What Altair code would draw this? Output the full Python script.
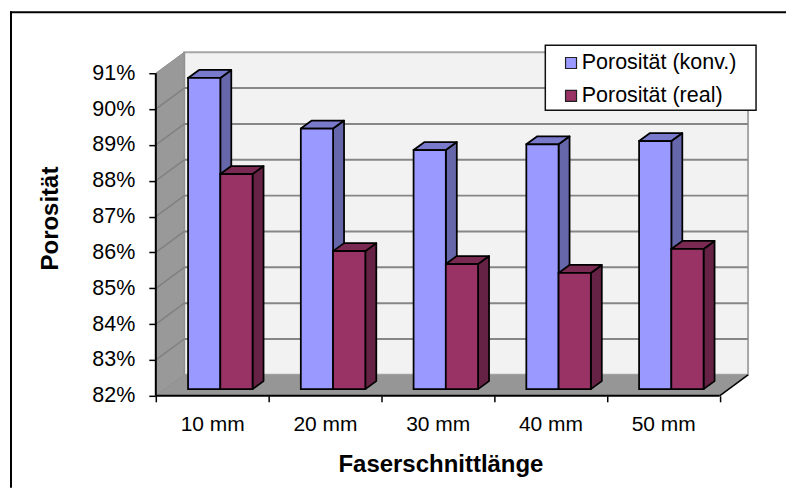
import altair as alt
import pandas as pd

# ---- values ----
categories = ["10 mm", "20 mm", "30 mm", "40 mm", "50 mm"]
conv_values = [90.68, 89.27, 88.67, 88.83, 88.92]
real_values = [88.00, 85.85, 85.49, 85.24, 85.91]
series_names = ["Porosität (konv.)", "Porosität (real)"]
y_ticks = [82, 83, 84, 85, 86, 87, 88, 89, 90, 91]

# ---- projection of the 3-D look, in data units ----
WALL_DX, WALL_DY = 0.2524, 0.585     # depth of the whole chart box
BAR_DX, BAR_DY = 0.0974, 0.223       # depth of a bar
FRONT_DX, FRONT_DY = 0.286, 0.187    # where bars stand on the floor
BAR_W = 0.286
N = len(categories)
FONT = "Liberation Sans"

x_scale = alt.Scale(domain=[0, N + WALL_DX], nice=False, zero=False)
y_scale = alt.Scale(domain=[82, 91 + WALL_DY], nice=False, zero=False)
X = alt.X("x:Q", scale=x_scale, axis=None)
Y = alt.Y("y:Q", scale=y_scale, axis=None)

# ---- chart box ----
back_wall = pd.DataFrame({"x": [WALL_DX], "x2": [N + WALL_DX], "y": [82 + WALL_DY], "y2": [91 + WALL_DY]})
wall = alt.Chart(back_wall).mark_rect(fill="#F2F2F2", stroke="#A6A6A6", strokeWidth=2).encode(
    x=X, x2="x2:Q", y=Y, y2="y2:Q")

side_wall = pd.DataFrame({"x": [0, WALL_DX], "y": [82, 82 + WALL_DY], "y2": [91, 91 + WALL_DY]})
side = alt.Chart(side_wall).mark_area(fill="#999999", stroke="#8C8C8C", strokeWidth=1).encode(
    x=X, y=Y, y2="y2:Q")

floor_df = pd.DataFrame({"y": [82, 82 + WALL_DY], "x": [0, WALL_DX], "x2": [N, N + WALL_DX]})
floor = alt.Chart(floor_df).mark_area(orient="horizontal", fill="#969696").encode(
    y=Y, x=X, x2="x2:Q")

grid_df = pd.DataFrame({"y": [t + WALL_DY for t in y_ticks[1:-1]], "x": WALL_DX, "x2": N + WALL_DX})
grid = alt.Chart(grid_df).mark_rule(color="#868686", strokeWidth=2).encode(x=X, x2="x2:Q", y=Y)

side_grid_df = pd.DataFrame(
    [{"t": t, "x": 0, "y": t} for t in y_ticks[1:-1]]
    + [{"t": t, "x": WALL_DX, "y": t + WALL_DY} for t in y_ticks[1:-1]]
)
side_grid = alt.Chart(side_grid_df).mark_line(color="#808080", strokeWidth=1.5).encode(
    x=X, y=Y, detail="t:N")

edge_df = pd.DataFrame({"x": [N, N + WALL_DX], "y": [82, 82 + WALL_DY]})
edge = alt.Chart(edge_df).mark_line(color="black", strokeWidth=1.5).encode(x=X, y=Y)

# ---- axis lines ----
axis_y = alt.Chart(pd.DataFrame({"x": [0], "y": [y_ticks[0]], "y2": [y_ticks[-1]]})).mark_rule(
    color="black", strokeWidth=2).encode(x=X, y=Y, y2="y2:Q")
axis_x = alt.Chart(pd.DataFrame({"x": [0], "x2": [N], "y": [y_ticks[0]]})).mark_rule(
    color="black", strokeWidth=2).encode(x=X, x2="x2:Q", y=Y)


# ---- bars ----
def bar_layers(values, slot, name, side_color, top_color):
    fronts, sides, tops = [], [], []
    for i, (cat, v) in enumerate(zip(categories, values)):
        x0 = i + FRONT_DX + slot * BAR_W
        x1 = x0 + BAR_W
        base = 82 + FRONT_DY
        top = v + FRONT_DY
        fronts.append({"cat": cat, "series": name, "x": x0, "x2": x1, "y": base, "y2": top})
        sides.append({"cat": cat, "x": x1, "y": base, "y2": top})
        sides.append({"cat": cat, "x": x1 + BAR_DX, "y": base + BAR_DY, "y2": top + BAR_DY})
        tops.append({"cat": cat, "y": top, "x": x0, "x2": x1})
        tops.append({"cat": cat, "y": top + BAR_DY, "x": x0 + BAR_DX, "x2": x1 + BAR_DX})
    side_l = alt.Chart(pd.DataFrame(sides)).mark_area(
        fill=side_color, stroke="black", strokeWidth=1.75, strokeJoin="round").encode(
        x=X, y=Y, y2="y2:Q", detail="cat:N")
    top_l = alt.Chart(pd.DataFrame(tops)).mark_area(
        orient="horizontal", fill=top_color, stroke="black", strokeWidth=1.75, strokeJoin="round").encode(
        y=Y, x=X, x2="x2:Q", detail="cat:N")
    front_l = alt.Chart(pd.DataFrame(fronts)).mark_rect(stroke="black", strokeWidth=1.75).encode(
        x=X, x2="x2:Q", y=Y, y2="y2:Q",
        fill=alt.Fill("series:N", scale=alt.Scale(domain=series_names, range=["#9999FF", "#993366"]),
                      legend=alt.Legend(
                          title=None, orient="none", legendX=405, legendY=0,
                          symbolType="square", symbolSize=121, symbolStrokeColor="#222222",
                          symbolStrokeWidth=1.2, labelFont=FONT, labelFontSize=21.5,
                          labelColor="black", labelOffset=0, rowPadding=10, labelLimit=300)),
    )
    return [side_l, top_l, front_l]


# ---- legend box, chart frame ----
legend_box = alt.Chart(pd.DataFrame({"a": [0]})).mark_rect(
    fill="white", stroke="#111111", strokeWidth=1.5).encode(
    x=alt.value(390), x2=alt.value(601), y=alt.value(-7), y2=alt.value(58))
frame_left = alt.Chart(pd.DataFrame({"a": [0]})).mark_rule(color="black", strokeWidth=2).encode(
    x=alt.value(-145), y=alt.value(-41), y2=alt.value(436))
frame_top = alt.Chart(pd.DataFrame({"a": [0]})).mark_rule(color="black", strokeWidth=2).encode(
    x=alt.value(-146), x2=alt.value(631), y=alt.value(-40))

# ---- axes ----
y_axis_layer = alt.Chart(pd.DataFrame({"y": y_ticks})).mark_point(opacity=0).encode(
    y=alt.Y("y:Q", scale=y_scale, axis=alt.Axis(
        orient="left", values=y_ticks, labelExpr="datum.value + '%'", domain=False, grid=False,
        tickColor="black", tickWidth=1.5, tickSize=7, labelPadding=14,
        labelFont=FONT, labelFontSize=21.5, labelColor="black",
        title="Porosität", titleFont=FONT, titleFontSize=24, titleFontWeight="bold",
        titleColor="black", titleX=-93, titleY=166)))

x_tick_layer = alt.Chart(pd.DataFrame({"x": list(range(N + 1))})).mark_point(opacity=0).encode(
    x=alt.X("x:Q", scale=x_scale, axis=alt.Axis(
        orient="bottom", values=list(range(N + 1)), labels=False, domain=False, grid=False, title=None,
        tickColor="black", tickWidth=1.5, tickSize=6)))

label_expr = "[" + ",".join(f"'{c}'" for c in categories) + "][floor(datum.value)]"
x_label_layer = alt.Chart(pd.DataFrame({"x": [i + 0.5 for i in range(N)]})).mark_point(opacity=0).encode(
    x=alt.X("x:Q", scale=x_scale, axis=alt.Axis(
        orient="bottom", values=[i + 0.5 for i in range(N)], labelExpr=label_expr, domain=False,
        grid=False, ticks=False,
        labelPadding=18, labelFont=FONT, labelFontSize=21, labelColor="black",
        title="Faserschnittlänge", titleFont=FONT, titleFontSize=24, titleFontWeight="bold",
        titleColor="black", titlePadding=18, titleX=285)))

layers = [wall, floor, side, grid, side_grid, edge, axis_y, axis_x, y_axis_layer, x_tick_layer, x_label_layer]
layers += bar_layers(conv_values, 0, series_names[0], "#6666AA", "#7A7ACC")
layers += bar_layers(real_values, 1, series_names[1], "#662244", "#7A2952")
layers += [legend_box, frame_left, frame_top]

chart = (
    alt.layer(*layers)
    .resolve_axis(x="independent", y="independent")
    .properties(width=593, height=344, padding={"left": 1, "top": 2, "right": 0, "bottom": 0},
                background="white")
    .configure_view(stroke=None)
)

chart.save("out.html", embed_options={"renderer": "svg", "actions": False})
